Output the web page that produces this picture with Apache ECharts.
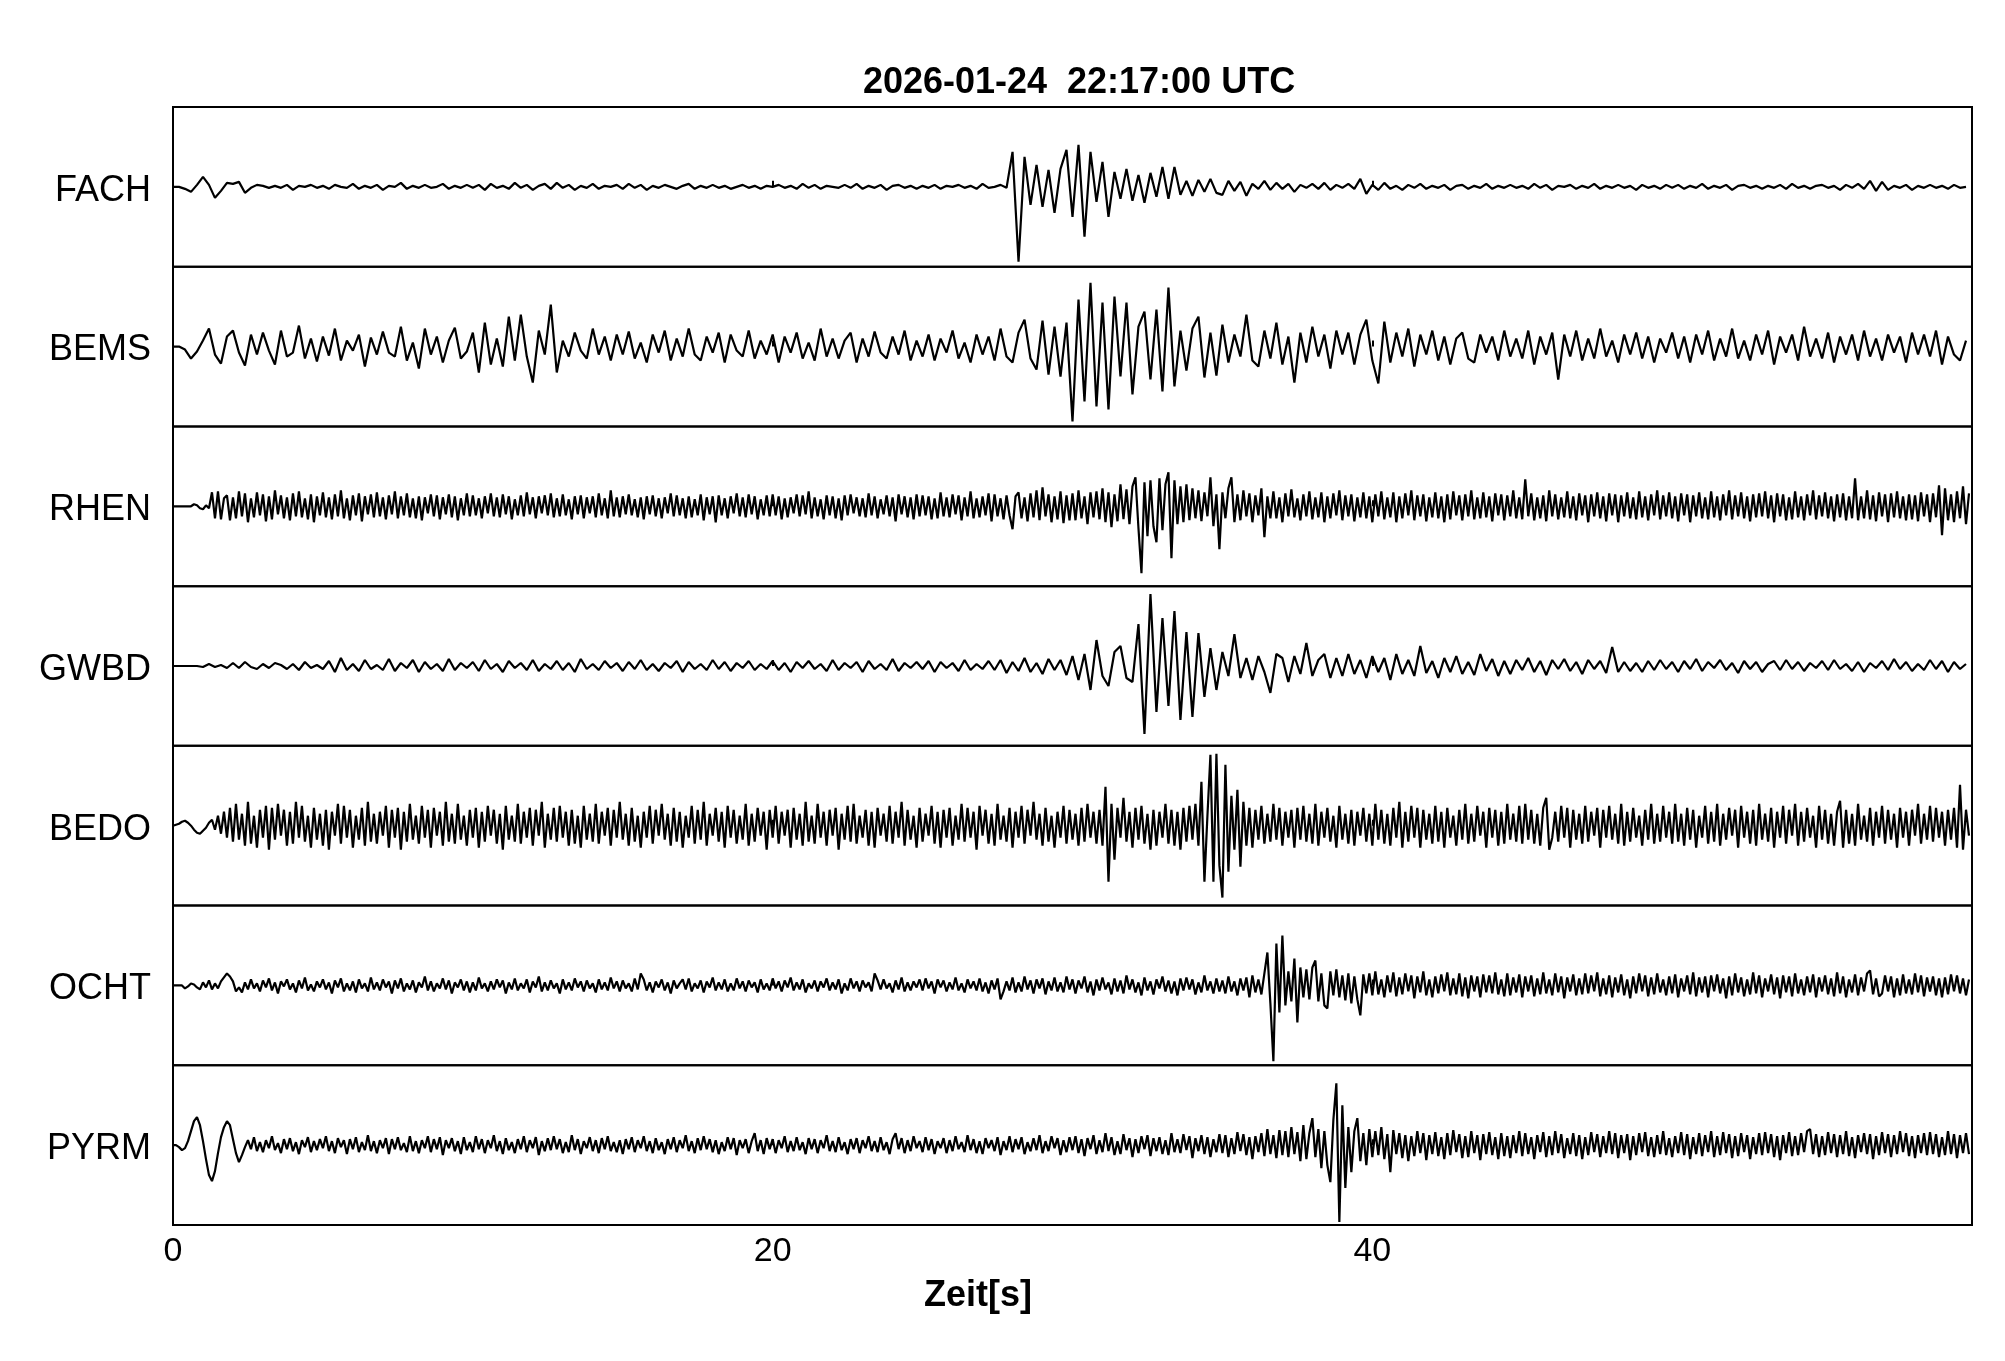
<!DOCTYPE html>
<html>
<head>
<meta charset="utf-8">
<script src="https://cdn.jsdelivr.net/npm/echarts@6/dist/echarts.min.js"></script>
<style>html,body{margin:0;padding:0;background:#fff}#c{width:2005px;height:1361px}</style>
</head>
<body>
<div id="c"></div>
<script>
const TITLE = '2026-01-24  22:17:00 UTC';
const X_NAME = 'Zeit[s]';
const X_MIN = 0, X_MAX = 60, X_STEP = 20;
const stations = ['FACH','BEMS','RHEN','GWBD','BEDO','OCHT','PYRM'];
const sampleDt = [0.2, 0.2, 0.1, 0.2, 0.1, 0.1, 0.1];   // sample interval [s] per trace

const FACH = [
0,0,-2,-5,2,10,2,-11,-4,4,3,5,-6,-1,2,1,-1,1,-1,2,-3,1,0,2,-1,
1,-2,2,0,-1,3,-2,1,-1,2,-3,1,0,4,-2,1,-1,2,-1,0,3,-2,1,-1,2,
-1,2,-3,3,-1,1,-2,4,-1,2,-3,1,3,-2,4,-1,2,-3,1,-1,3,-2,1,0,2,
-2,3,-1,2,-3,1,-1,2,0,-2,1,3,-2,1,-1,2,-1,1,-2,0,2,-1,1,-2,1,
0,2,-1,1,-2,3,-1,2,-2,1,0,-1,2,-1,3,-2,1,-1,2,-3,1,2,-1,1,-2,
1,-1,2,-2,1,0,2,-1,1,-2,3,-1,0,2,-1,35,-75,30,-18,22,-20,17,-26,18,37,
-30,42,-50,35,-15,25,-30,15,-12,18,-14,12,-16,14,-10,20,-12,20,-8,6,-9,7,-5,8,-6,
-8,6,-4,5,-9,3,-2,6,-3,4,-2,3,-5,2,-1,3,-2,4,-3,2,-1,3,-2,8,-7,
2,-3,4,-2,1,-3,2,-1,3,-2,1,-1,2,-3,1,2,-2,1,-1,3,-2,1,-1,2,-1,
1,-2,3,-1,2,-3,1,0,2,-2,1,-1,3,-2,1,-1,2,-1,1,-3,2,-1,1,-2,2,
-1,2,-2,1,-1,3,-2,1,-1,2,-3,1,2,-1,1,-2,1,-1,2,-2,3,-1,1,-2,1,
2,-1,1,-3,2,-1,3,-2,6,-4,5,-3,1,-1,2,-3,1,-1,2,-1,1,-2,2,-1,0];

const BEMS = [
0,0,-3,-12,-5,6,18,-8,-17,10,16,-6,-19,12,-8,14,-4,-18,16,-10,-6,21,-12,8,-15,
10,-9,18,-14,6,-4,12,-20,9,-8,15,-6,-10,20,-14,4,-22,18,-8,10,-16,6,19,-12,-5,
14,-26,24,-18,8,-20,30,-14,32,-10,-36,16,-8,42,-26,6,-10,14,-4,-12,18,-8,10,-14,12,
-8,15,-12,4,-16,12,-6,16,-14,8,-10,18,-8,-14,10,-6,14,-16,12,-4,-10,16,-12,6,-8,
12,-16,10,-6,14,-12,4,-14,18,-10,8,-12,6,14,-16,8,-10,15,-6,-12,10,-8,16,-14,6,
-10,12,-14,8,-6,16,-12,4,-16,12,-8,10,-14,18,-10,-16,14,27,-12,-23,26,-28,20,-30,24,
-75,47,-55,64,-60,44,-63,50,-30,44,-48,20,35,-33,37,-45,59,-40,16,-24,18,30,-31,14,-29,
22,-16,12,-10,32,-14,-20,16,-12,24,-18,10,-36,14,-16,20,-10,12,-22,16,-8,14,-18,12,27,
-14,-37,25,-16,14,-10,18,-20,12,-8,16,-14,10,-18,8,14,-12,-16,12,-6,10,-14,16,-10,8,
-12,16,-18,10,-8,14,-33,12,-10,16,-14,8,-12,18,-10,6,-16,12,-8,14,-12,10,-16,8,-6,
14,-12,10,-16,12,-8,16,-14,8,-10,18,-12,6,-14,12,-8,16,-18,10,-6,12,-14,20,-10,8,
-12,14,-16,10,-8,12,-14,16,-10,8,-14,12,-6,10,-16,14,-8,12,-10,16,-18,10,-8,-14,6];

const RHEN = [
0,0,0,0,0,0,0,2,1,-2, -3,1,-2,14,-12,15,-13,8,11,-14, 9,-12,15,-10,13,-16,8,-11,14,-9, 12,-15,10,-13,16,-8,11,-12,9,-14, 13,-10,15,-11,8,-13,12,-16,10,-9,
14,-11,9,-13,12,-10,16,-12,8,-14, 11,-9,13,-15,10,-8,12,-11,14,-10, 9,-13,11,-8,15,-12,10,-9,13,-11, 8,-12,10,-14,9,-7,12,-10,11,-13, 9,-8,12,-11,10,-14,8,-9,13,-10,
11,-9,8,-12,10,-7,13,-10,9,-11, 12,-8,10,-13,7,-9,11,-10,14,-8, 9,-12,10,-7,11,-9,13,-11,8,-10, 12,-9,7,-13,10,-8,11,-12,9,-7, 10,-11,13,-9,8,-12,16,-10,9,-11,
10,-8,12,-9,7,-11,9,-13,10,-8, 11,-10,8,-12,9,-7,13,-10,11,-9, 8,-12,10,-11,7,-9,12,-14,9,-8, 10,-16,11,-9,8,-12,10,-7,13,-10, 9,-11,12,-8,10,-13,7,-9,11,-10,
12,-9,10,-13,8,-11,9,-7,12,-10, 11,-8,15,-12,9,-10,7,-13,11,-9, 10,-12,8,-14,11,-9,12,-7,9,-10, 8,-11,13,-9,10,-12,7,-8,11,-10, 9,-15,12,-8,10,-11,9,-13,12,-10,
11,-9,10,-13,8,-12,14,-10,9,-11, 12,-8,11,-14,9,-10,15,-12,8,-11, 10,-9,13,-15,12,-10,8,-13,11,-9, -23,10,14,-12,9,-15,13,-11,16,-14, 19,-10,12,-16,10,-13,15,-17,11,-14,
13,-14,16,-12,10,-18,14,-11,15,-13, 18,-16,14,-21,12,-15,22,-13,17,-18, 20,29,-22,-67,24,-30,26,-20,-36,28, -24,22,34,-52,26,-18,20,-16,22,-14, 18,-12,16,-15,14,-10,29,-20,12,-43,
14,-12,18,29,-16,12,-14,16,-10,13, -16,11,-9,18,-31,10,-12,15,-12,9, -16,13,-10,17,-11,8,-14,12,-10,15, -13,9,-11,14,-16,10,-12,13,-9,16, -14,11,-10,12,-15,9,-11,14,-12,10,
-16,12,-10,15,-13,9,-11,14,-16,10, -12,13,-9,16,-14,11,-10,12,-15,9, -11,14,-12,10,-16,12,-13,15,-9,11, -14,12,-10,16,-13,9,-12,14,-11,10, -15,13,-9,12,-14,11,-10,16,-12,9,
-13,27,-10,13,-14,9,-12,11,-15,16, -10,12,-13,9,-11,15,-12,10,-14,13, -9,11,-16,12,-10,14,-12,10,-15,13, -9,12,-16,11,-10,14,-12,9,-13,15, -11,10,-14,12,-9,16,-13,11,-10,14,
-12,10,-15,13,-9,12,-16,11,-10,14, -12,9,-13,15,-11,10,-14,12,-9,16, -13,11,-10,14,-12,10,-15,12,-11,13, -10,15,-12,11,-16,13,-10,12,-14,9, -13,15,-11,10,-14,12,-9,16,-13,11,
-10,14,-12,10,-15,12,-11,13,-14,10, -12,28,-14,10,-12,16,-13,11,-15,14, -10,12,-16,13,-11,15,-12,10,-14,12, -13,11,-15,14,-10,12,-16,13,-11,21, -29,18,-14,12,-16,15,-12,20,-18,13];

const GWBD = [
0,0,0,0,0,-1,2,-1,1,-2,3,-2,4,-1,-3,2,-2,3,1,-3,2,-4,4,-2,1,
-3,5,-6,8,-4,2,-5,6,-3,1,-4,7,-5,3,-2,6,-6,4,-3,2,-5,7,-4,3,-2,
4,-5,6,-3,2,-6,5,-2,3,-4,6,-5,2,-3,5,-4,3,-6,7,-3,2,-4,5,-2,3,
-5,4,-3,6,-4,2,-5,3,-2,5,-6,4,-3,2,-4,6,-3,4,-5,3,-2,5,-4,2,-3,
5,-4,3,-6,4,-2,5,-3,2,-5,6,-4,3,-2,4,-6,5,-3,2,-4,7,-5,3,-2,4,
-3,5,-6,4,-2,3,-5,6,-4,2,-3,5,-4,6,-7,4,-5,8,-6,3,-8,7,-4,6,-9,
10,-14,12,-24,26,-10,-20,14,20,-12,-16,42,-68,72,-46,48,-40,55,-54,34,-51,33,-31,18,-24,
14,-10,32,-12,8,-14,10,-6,-27,12,8,-16,10,-8,23,-10,6,12,-12,8,-10,12,-8,6,-12,
10,-6,8,-14,12,-8,6,-10,20,-7,5,-12,8,-6,10,-8,4,-9,12,-5,7,-10,5,-8,6,
-4,8,-6,5,-9,6,-3,7,-5,4,-8,6,-3,5,-7,19,-6,4,-5,3,-6,5,-4,6,-3,
4,-6,5,-3,7,-5,4,-2,6,-4,3,-7,5,-3,4,-6,2,5,-4,6,-3,4,-5,3,-2,
5,-4,6,-3,2,-5,4,-6,3,-2,5,-4,7,-3,4,-5,2,-4,6,-3,5,-6,4,-3,2];

const BEDO = [
0,1,2,4,5,3,0,-4,-7,-8, -5,-2,3,6,-4,10,-8,14,-12,18, -16,22,-14,12,-20,24,-18,10,-22,16, -12,20,-24,18,-14,22,-10,16,-20,14, -18,24,-12,20,-16,10,-22,18,-14,12,
-20,16,-24,14,-10,22,-18,20,-12,16, -22,10,-14,18,-20,24,-16,12,-18,14, -10,20,-22,16,-12,18,-24,14,-16,22, -14,10,-18,20,-12,16,-22,18,-10,14, -20,24,-16,12,-18,22,-14,10,-20,16,
-12,18,-22,14,-16,20,-10,16,-18,12, -24,20,-14,10,-16,22,-18,14,-12,18, -20,16,-10,24,-22,12,-14,18,-16,20, -12,14,-20,16,-18,10,-22,20,-14,12, -16,22,-18,14,-10,18,-20,16,-12,24,
-14,12,-20,18,-16,10,-22,14,-12,20, -18,16,-10,22,-14,12,-20,18,-16,14, -22,10,-12,20,-18,16,-14,24,-20,12, -10,18,-16,14,-22,20,-12,16,-18,10, -14,22,-20,12,-16,18,-10,14,-24,16,
-12,20,-18,14,-10,16,-22,18,-14,12, -20,24,-16,10,-18,22,-12,14,-20,16, -10,18,-24,12,-14,20,-16,22,-18,10, -12,16,-20,14,-22,18,-10,12,-16,20, -18,14,-12,24,-20,16,-14,10,-22,18,
-16,12,-10,20,-18,14,-22,16,-12,18, -20,10,-14,22,-16,18,-12,14,-24,20, -10,16,-18,12,-20,22,-14,10,-16,18, -22,14,-12,20,-18,16,-10,24,-14,12, -20,18,-16,10,-22,14,-12,20,-18,16,
-14,12,-20,18,-16,22,-12,14,-18,16, -20,39,-56,22,-34,18,-12,28,-16,14, -22,18,-14,20,-18,12,-24,16,-20,14, -12,22,-18,16,-20,14,-24,18,-16,20, -14,22,-20,44,-56,10,71,-56,72,-40,
-72,61,-46,30,-24,36,-41,24,-20,18, -22,16,-14,20,-18,12,-16,22,-14,18, -20,14,-12,16,-22,18,-14,20,-16,12, -18,22,-20,14,-12,18,-16,10,-22,20, -14,12,-18,16,-20,14,-10,18,-16,12,
-20,22,-14,16,-18,12,-20,18,-12,24, -22,14,-16,20,-12,18,-22,16,-14,12, -18,20,-16,14,-22,18,-12,10,-20,16, -14,22,-18,12,-16,20,-10,14,-22,18, -12,16,-20,14,-18,22,-14,12,-16,20,
-18,22,-14,16,-18,12,-20,18,28,-24, -12,14,-16,20,-12,18,-22,16,-14,12, -18,20,-16,14,-10,18,-22,16,-12,20, -14,12,-18,22,-20,14,-16,18,-12,10, -20,16,-14,22,-18,12,-16,20,-12,14,
-18,22,-16,12,-20,18,-14,16,-22,10, -12,20,-18,14,-16,22,-20,12,-14,18, -10,16,-22,20,-12,14,-18,16,-20,22, -14,12,-16,18,-22,14,-12,20,-18,16, -10,22,-20,14,-16,18,-12,10,-22,20,
-14,16,-18,12,-20,14,25,-22,16,-18, 12,-20,22,-14,10,-16,18,-20,14,-12, 20,-18,16,-14,12,-22,18,-12,14,-20, 16,-10,22,-18,12,-14,20,-16,18,-12, 14,-20,16,-14,18,-22,41,-24,16,-10];

const OCHT = [
0,0,0,0,-3,-1,2,1,-2,-4, 3,-2,5,-4,2,-3,4,8,12,9, 4,-6,-2,-7,3,-4,6,-3,2,-6, 5,-2,7,-5,3,-8,4,-1,6,-4, 2,-7,5,-3,8,-5,1,-6,4,-2,
6,-4,3,-8,5,-2,7,-6,2,-5, 4,-7,6,-3,2,-6,8,-4,3,-5, 6,-2,4,-8,5,-3,7,-6,2,-4, 5,-7,3,-2,9,-5,4,-6,2,-3, 7,-4,5,-8,3,-2,6,-5,4,-7,
3,-5,8,-3,2,-6,4,-4,6,-2, 5,-8,3,-4,7,-5,2,-3,6,-7, 4,-2,9,-6,3,-5,5,-3,2,-8, 6,-4,3,-5,7,-2,4,-6,5,-3, 2,-7,6,-4,3,-5,8,-3,4,-6,
5,-3,2,-6,7,-4,12,6,-5,3, -7,4,-2,6,-5,3,-8,5,-3,2, 6,-4,7,-6,2,-3,5,-7,4,-2, 8,-5,3,-4,6,-6,2,-5,7,-3, 4,-6,5,-2,3,-7,6,-4,2,-5,
7,-3,4,-6,5,-2,8,-5,3,-4, 6,-7,2,-3,5,-6,4,-2,7,-5, 3,-4,6,-8,2,-5,7,-3,4,-6, 5,-2,3,-6,12,5,-4,6,-3,2, -7,5,-4,8,-6,3,-5,4,-2,6,
-5,7,-3,4,-8,6,-2,5,-6,3, -4,8,-5,2,-7,6,-3,4,-5,7, -6,3,-8,5,-4,7,-14,-6,4,-5, 8,-7,3,-6,9,-4,5,-8,6,-3, 7,-9,4,-5,8,-6,3,-7,9,-4,
6,-8,5,-3,9,-7,4,-10,6,-5, 8,-4,3,-9,7,-6,5,-8,10,-4, 6,-7,3,-10,8,-5,4,-9,6,-3, 9,-6,5,-8,4,-10,7,-5,8,-4, 6,-9,3,-7,10,-5,4,-8,7,-6,
5,-8,9,-6,4,-10,7,-5,8,-12, 10,-7,6,-9,12,33,-18,-76,42,-27, 50,-20,14,-16,27,-37,18,-12,16,-14, 18,25,-16,12,-20,-23,14,-10,16,-12, 10,-15,12,-18,9,-14,-30,11,-8,12,
-10,14,-9,6,-12,10,-7,13,-11,8, -9,12,-6,10,-13,9,-7,14,-10,6, -12,9,-8,11,-6,13,-10,7,-9,12, -11,8,-13,10,-6,9,-12,11,-7,10, -8,13,-9,6,-11,12,-10,8,-7,11,
-12,9,-6,10,-11,7,-9,13,-8,6, -10,12,-7,9,-13,8,-6,11,-10,7, -9,12,-8,10,-6,13,-11,7,-9,10, -12,8,-7,11,-10,6,-13,9,-8,12, -6,10,-11,8,-9,12,-7,6,-10,9,
-8,11,-12,7,-6,10,-9,13,-11,8, -7,9,-12,10,-6,11,-8,7,-13,9, -10,12,-7,8,-11,6,-9,13,-8,10, -12,7,-6,11,-9,8,-13,10,-7,9, -11,12,-8,6,-10,9,-7,11,-12,8,
-6,10,-9,7,-11,13,-8,9,-12,6, -7,11,-10,8,-6,12,15,-9,7,-11, -8,10,-6,9,-12,7,-10,11,-8,6, -9,12,-7,10,-11,8,-6,9,-10,7, -12,8,-9,11,-6,10,-8,7,-10,6];

const PYRM = [
0,0,-2,-5,-3,4,14,24,28,20, 4,-14,-30,-36,-26,-8,8,18,24,20, 6,-8,-17,-10,-2,5,-4,8,-6,3, -7,5,-3,9,-5,2,-8,6,-4,7, -6,3,-9,5,-2,8,-7,4,-5,6,
-3,9,-6,4,-8,7,-2,5,-9,6, -4,8,-7,3,-5,10,-6,4,-8,5, -3,7,-9,6,-4,8,-5,2,-7,9, -6,4,-8,5,-3,9,-7,6,-4,8, -10,5,-3,7,-6,4,-9,8,-5,3,
-7,9,-4,6,-8,5,-3,10,-6,4, -9,7,-5,3,-8,6,-4,9,-7,5, -3,8,-10,4,-6,7,-5,9,-4,6, -8,3,-7,10,-5,6,-9,4,-3,8, -6,5,-8,7,-4,9,-6,3,-7,5,
-9,6,-4,8,-7,5,-3,9,-6,4, -8,7,-5,3,-9,6,-4,8,-7,5, -3,10,-6,4,-8,7,-5,9,-4,6, -7,5,-9,3,-6,8,-4,7,-10,5, -3,6,-8,4,12,-6,5,-9,7,-4,
6,-8,5,-3,9,-7,4,-6,8,-5, 3,-9,7,-4,6,-8,5,-3,10,-6, 4,-7,8,-5,3,-9,6,-4,7,-8, 5,-3,9,-6,4,-7,8,-5,3,-9, 6,12,-4,7,-8,5,-6,9,-3,4,
-7,8,-5,6,-9,4,-3,7,-8,5, -6,9,-4,3,-7,10,-5,6,-8,4, -9,7,-3,5,-6,8,-10,4,-5,9, -7,6,-4,8,-9,3,-6,7,-5,10, -8,4,-6,9,-3,7,-10,5,-7,8,
-5,9,-8,6,-11,7,-4,10,-9,5, -7,12,-6,8,-10,4,-9,11,-5,7, -12,6,-8,9,-4,10,-11,7,-6,8, -9,5,-10,12,-7,6,-8,11,-5,9, -13,7,-6,10,-9,8,-12,6,-7,11,
-8,10,-12,7,-9,13,-6,11,-10,8, -14,9,-7,12,-11,16,-9,10,-13,15, -10,14,-12,18,-9,13,-16,20,-14,12, 27,-12,16,-23,14,-20,-37,25,62,-77, 40,-43,18,-27,14,27,-16,12,-20,16,
-12,14,-10,18,-14,11,-27,15,-9,12, -13,10,-16,9,-11,14,-8,12,-15,10, -9,13,-11,8,-14,12,-10,15,-7,11, -13,9,-12,14,-8,10,-15,11,-9,13, -10,8,-14,12,-11,9,-13,10,-8,14,
-11,12,-9,8,-14,10,-7,13,-12,9, -10,14,-8,11,-13,7,-9,12,-11,10, -14,8,-10,13,-7,11,-12,9,-8,14, -9,12,-13,10,-8,11,-15,9,-10,12, -7,13,-11,8,-12,10,-9,14,-10,7,
-12,9,-8,13,-10,11,-14,8,-9,12, -11,10,-7,14,-12,9,-10,13,-8,11, -13,9,-11,12,-7,10,-14,8,-9,12, -10,13,-8,11,-12,9,-15,10,-8,13, -11,9,-10,12,-7,14,16,-9,11,-12,
9,-10,13,-8,11,-12,10,-9,14,-11, 8,-13,10,-7,12,-9,11,-14,9,-10, 13,-8,11,-12,10,-9,14,-7,12,-11, 9,-13,10,-8,12,-10,13,-9,11,-12, 8,-10,14,-9,11,-13,10,-8,12,-9];

const traces = [FACH, BEMS, RHEN, GWBD, BEDO, OCHT, PYRM];

const FONT = '"Liberation Sans", Arial, Helvetica, sans-serif';
const LEFT = 173, RIGHT = 1972, TOP = 107, BOTTOM = 1225;
const H = (BOTTOM - TOP) / stations.length;
const last = stations.length - 1;

const grids = [], xAxes = [], yAxes = [], series = [], labels = [];
stations.forEach((name, i) => {
  grids.push({left: LEFT, width: RIGHT - LEFT, top: TOP + i * H, height: H,
    show: true, borderColor: '#000', borderWidth: 2, backgroundColor: 'transparent'});
  xAxes.push({gridIndex: i, type: 'value', min: X_MIN, max: X_MAX, interval: X_STEP,
    axisLine: {show: false},
    axisTick: {show: true, inside: true, length: 6, lineStyle: {color: '#000', width: 2}},
    splitLine: {show: false},
    axisLabel: {show: i === last, showMaxLabel: false, fontSize: 34, color: '#000',
      fontFamily: FONT, margin: 10}});
  yAxes.push({gridIndex: i, type: 'value', min: -80, max: 80, show: false});
  const dt = sampleDt[i];
  series.push({type: 'line', xAxisIndex: i, yAxisIndex: i, name,
    data: traces[i].map((v, k) => [k * dt, v]),
    showSymbol: false, symbol: 'none', silent: true, animation: false,
    lineStyle: {color: '#000', width: 2.2}});
  labels.push({type: 'text', x: 151, y: TOP + (i + 0.5) * H + 4,
    style: {text: name, font: '36px ' + FONT, fill: '#000',
      textAlign: 'right', textVerticalAlign: 'middle'}});
});

const chart = echarts.init(document.getElementById('c'), null, {renderer: 'canvas'});
chart.setOption({
  backgroundColor: '#fff',
  animation: false,
  grid: grids, xAxis: xAxes, yAxis: yAxes, series,
  graphic: labels.concat([
    {type: 'text', x: 1079, y: 83,
      style: {text: TITLE, font: 'bold 36px ' + FONT, fill: '#000',
        textAlign: 'center', textVerticalAlign: 'middle'}},
    {type: 'text', x: 978, y: 1296,
      style: {text: X_NAME, font: 'bold 36px ' + FONT, fill: '#000',
        textAlign: 'center', textVerticalAlign: 'middle'}}
  ])
});
</script>
</body>
</html>
